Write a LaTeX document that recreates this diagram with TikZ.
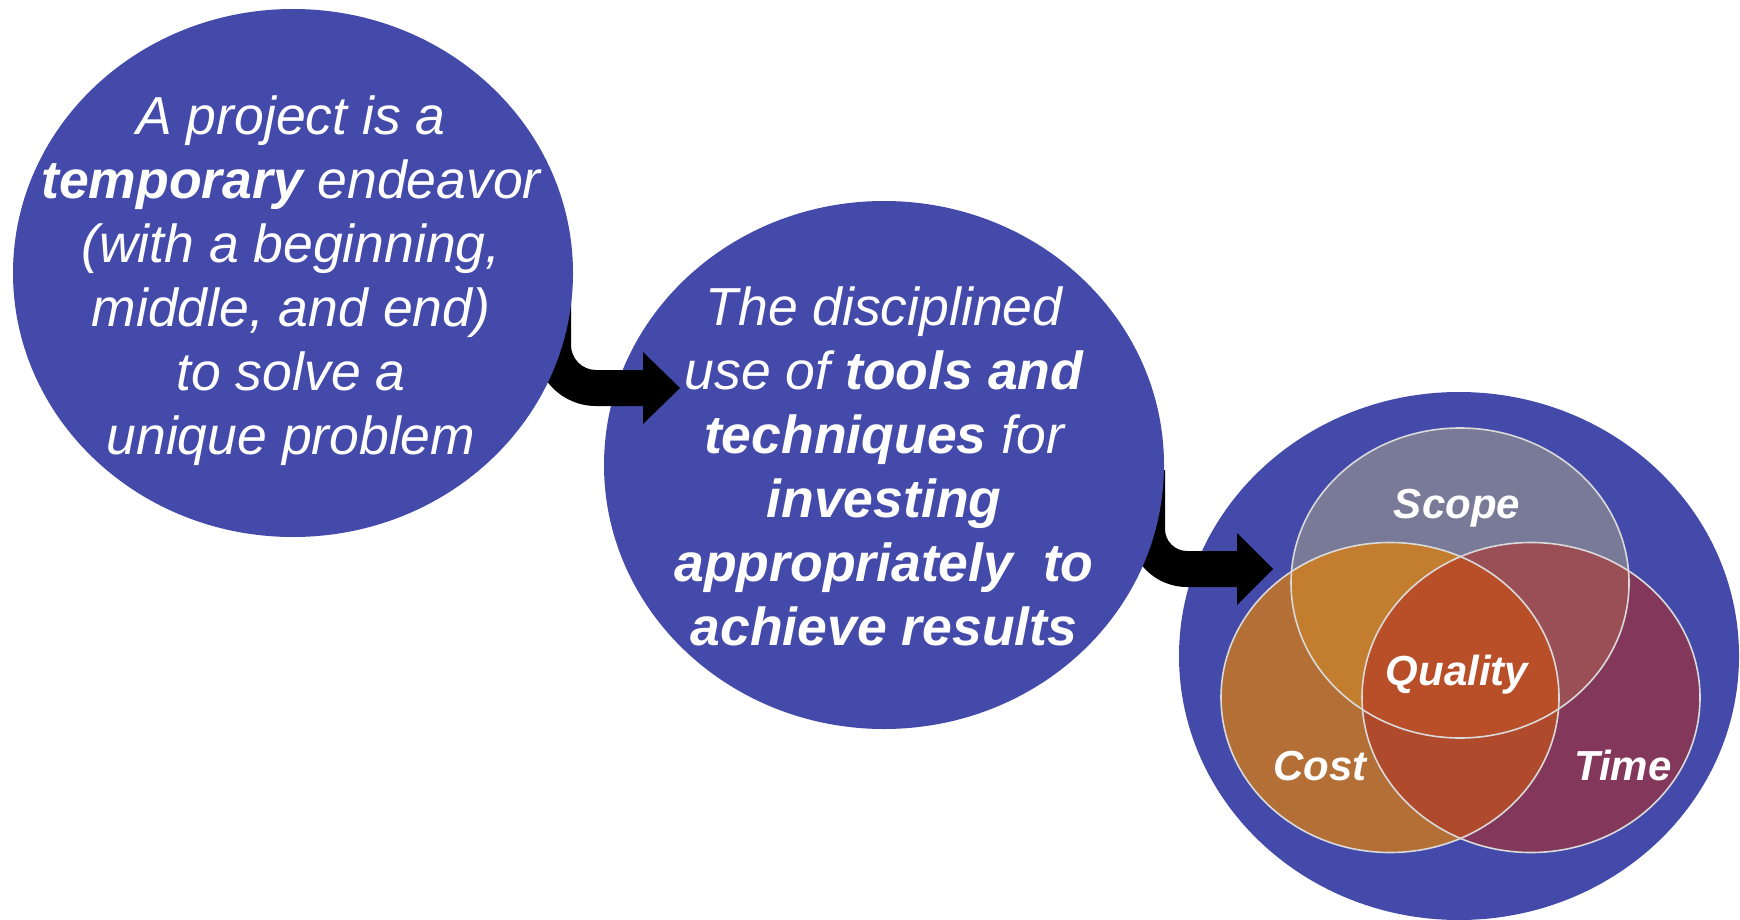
\documentclass[tikz,border=0pt]{standalone}
\usepackage{fontspec}
\setmainfont{Liberation Sans}
\usetikzlibrary{shapes.geometric}

\definecolor{discblue}{HTML}{444AAA}
\definecolor{scopecol}{HTML}{797A97}
\definecolor{costcol}{HTML}{B36F36}
\definecolor{timecol}{HTML}{83385B}
\definecolor{scopecost}{HTML}{C27E2E}
\definecolor{scopetime}{HTML}{9A4E56}
\definecolor{costtime}{HTML}{B04A2D}
\definecolor{qualitycol}{HTML}{B94F29}
\definecolor{vennline}{HTML}{DADADA}

\tikzset{
  disc/.style={ellipse, fill=discblue, inner sep=0pt,
    minimum width=560pt, minimum height=528pt},
  bodytext/.style={text=white, inner sep=0pt, anchor=base,
    font=\fontsize{53.5}{64}\selectfont\itshape},
  vennlabel/.style={text=white, inner sep=0pt, anchor=base,
    font=\fontsize{42}{50}\selectfont\bfseries\itshape},
  bentarrow/.style={fill=black},
  vennedge/.style={draw=vennline, line width=1.6pt}
}

% Venn ellipses
\def\scopecircle{(1460,583) ellipse [x radius=169pt, y radius=155pt]}
\def\costcircle{(1390,697.5) ellipse [x radius=169pt, y radius=155pt]}
\def\timecircle{(1531,697.5) ellipse [x radius=169pt, y radius=155pt]}

\begin{document}
\begin{tikzpicture}[x=1pt, y=-1pt]
\fill[white] (0,0) rectangle (1740,920);
\useasboundingbox (0,0) rectangle (1740,920);

% third disc, then the arrow that points into it
\node[disc] (e3) at (1459,656) {};
\fill[bentarrow] (1129,470) -- (1165,470) -- (1165,520)
  [rounded corners=22pt] -- (1165,551) -- (1200,551)
  [sharp corners] -- (1237,551) -- (1237,533) -- (1273,569)
  -- (1237,605) -- (1237,587) -- (1215,587)
  [rounded corners=58pt] -- (1129,587) -- (1129,520)
  [sharp corners] -- cycle;

% second disc, then the arrow that points into it
\node[disc] (e2) at (884,465) {};
\fill[bentarrow] (535,280) -- (571,280) -- (571,335)
  [rounded corners=25pt] -- (571,370) -- (610,370)
  [sharp corners] -- (643,370) -- (643,352) -- (680,388)
  -- (643,424) -- (643,406) -- (620,406)
  [rounded corners=61pt] -- (535,406) -- (535,335)
  [sharp corners] -- cycle;

% first disc
\node[disc] (e1) at (293,273) {};

% Venn diagram: single regions
\fill[scopecol] \scopecircle;
\fill[costcol] \costcircle;
\fill[timecol] \timecircle;
% pairwise overlaps
\begin{scope}
  \clip \scopecircle;
  \fill[scopecost] \costcircle;
  \fill[scopetime] \timecircle;
\end{scope}
\begin{scope}
  \clip \costcircle;
  \fill[costtime] \timecircle;
\end{scope}
% centre overlap
\begin{scope}
  \clip \scopecircle;
  \clip \costcircle;
  \fill[qualitycol] \timecircle;
\end{scope}
\draw[vennedge] \scopecircle;
\draw[vennedge] \costcircle;
\draw[vennedge] \timecircle;

% texts
\node[bodytext] (t1) at (291,135) {\begin{tabular}[t]{@{}c@{}}
  A project is a\\
  \textbf{temporary} endeavor\\
  (with a beginning,\\
  middle, and end)\\
  to solve a\\
  unique problem
\end{tabular}};

\node[bodytext] (t2) at (884,325) {\begin{tabular}[t]{@{}c@{}}
  The disciplined\\
  use of \textbf{tools and}\\
  \textbf{techniques} for\\
  \textbf{investing}\\
  \textbf{appropriately~ to}\\
  \textbf{achieve results}
\end{tabular}};

\node[vennlabel] (scope) at (1457,518) {Scope};
\node[vennlabel] (quality) at (1457,685) {Quality};
\node[vennlabel] (cost) at (1320,780) {Cost};
\node[vennlabel] (time) at (1623,780) {Time};
\end{tikzpicture}
\end{document}
